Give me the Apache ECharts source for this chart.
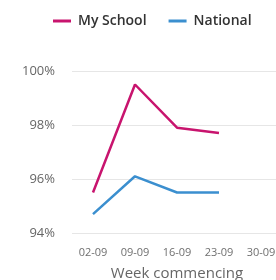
<!DOCTYPE html>
<html>
<head>
<meta charset="utf-8">
<script src="https://cdn.jsdelivr.net/npm/echarts@6/dist/echarts.min.js"></script>
<style>
  html, body { margin: 0; padding: 0; background: #fff; }
  #main { width: 276px; height: 280px; }
</style>
</head>
<body>
<div id="main"></div>
<script>
  // weeks on the x axis
  var weeks = ['02-09', '09-09', '16-09', '23-09', '30-09'];
  // attendance %, last week has no data yet
  var mySchool = [95.5, 99.5, 97.9, 97.7, null];
  var national = [94.7, 96.1, 95.5, 95.5, null];

  var myChart = echarts.init(document.getElementById('main'));
  myChart.setOption({
    textStyle: { fontFamily: 'Open Sans' },
    legend: {
      top: 9,
      left: 48,
      itemWidth: 18,
      itemHeight: 3,
      itemGap: 22,
      icon: 'rect',
      textStyle: { fontSize: 14, fontWeight: 600, color: '#333', fontFamily: 'Open Sans', padding: [0, 0, 0, 2] },
      data: ['My School', 'National']
    },
    // keep grid exactly where set, labels may sit outside
    grid: { left: 72, right: -6, top: 71, bottom: 47, outerBoundsMode: 'none', containLabel: false },
    xAxis: {
      type: 'category',
      data: weeks,
      name: 'Week commencing',
      nameLocation: 'middle',
      nameGap: 33,
      nameTextStyle: { fontSize: 15, color: '#666' },
      axisLine: { show: false },
      axisTick: { show: false },
      axisLabel: { fontSize: 11, color: '#6f6f6f', margin: 14 }
    },
    yAxis: {
      type: 'value',
      min: 94,
      max: 100,
      interval: 2,
      axisLabel: { fontSize: 13, color: '#666', margin: 17, formatter: '{value}%' },
      splitLine: { lineStyle: { color: '#e6e6e6', width: 1 } }
    },
    series: [{
      name: 'My School',
      type: 'line',
      data: mySchool,
      showSymbol: false,
      symbol: 'none',
      lineStyle: { color: '#c8146e', width: 2.5 },
      itemStyle: { color: '#c8146e' }
    }, {
      name: 'National',
      type: 'line',
      data: national,
      showSymbol: false,
      symbol: 'none',
      lineStyle: { color: '#3b8fcf', width: 2.5 },
      itemStyle: { color: '#3b8fcf' }
    }]
  });
</script>
</body>
</html>
